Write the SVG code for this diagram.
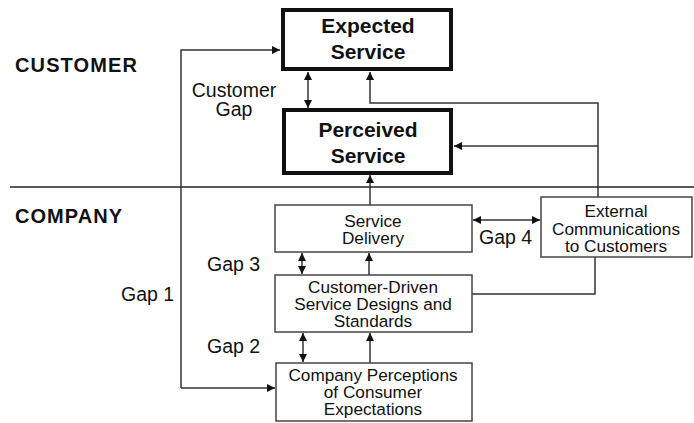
<svg xmlns="http://www.w3.org/2000/svg" width="694" height="423" viewBox="0 0 694 423">
<defs>
<marker id="ah" viewBox="0 0 10 10" refX="10" refY="5" markerWidth="8" markerHeight="8" markerUnits="userSpaceOnUse" orient="auto-start-reverse"><path d="M0,0 L10,5 L0,10 z" fill="#111"/></marker>
</defs>
<style>
text{font-family:"Liberation Sans",Arial,sans-serif;fill:#111;}
.big{font-size:21px;font-weight:bold;text-anchor:middle;}
.sec{font-size:20px;font-weight:bold;}
.lbl{font-size:19.5px;}
.box{font-size:17.2px;text-anchor:middle;}
.thick{fill:#fff;stroke:#111;stroke-width:4;}
.thin{fill:#fff;stroke:#444;stroke-width:1.5;}
.ln{fill:none;stroke:#333;stroke-width:1.5;}
.ar{marker-end:url(#ah);}
.dar{marker-end:url(#ah);marker-start:url(#ah);}
</style>
<rect width="694" height="423" fill="#fff"/>
<text class="sec" x="15" y="72" textLength="122">CUSTOMER</text>
<text class="sec" x="15" y="223" textLength="107">COMPANY</text>
<line x1="10" y1="187" x2="694" y2="187" stroke="#222" stroke-width="1.5"/>
<g id="connectors">
<polyline class="ln ar" points="181,388 181,50 280,50"/>
<line class="ln ar" x1="181" y1="388" x2="275" y2="388"/>
<line class="ln dar" x1="308" y1="72" x2="308" y2="108"/>
<polyline class="ln ar" points="598,197 598,103 370,103 370,72"/>
<polyline class="ln ar" points="598,146 454,146"/>
<line class="ln ar" x1="370" y1="205" x2="370" y2="175"/>
<line class="ln dar" x1="473" y1="220" x2="540" y2="220"/>
<polyline class="ln" points="472,294 595,294 595,257"/>
<line class="ln dar" x1="302" y1="253" x2="302" y2="274"/>
<line class="ln ar" x1="369" y1="275" x2="369" y2="253"/>
<line class="ln dar" x1="303" y1="333" x2="303" y2="362"/>
<line class="ln ar" x1="370" y1="363" x2="370" y2="333"/>
</g>
<text class="lbl" x="234" y="97" text-anchor="middle">Customer</text>
<text class="lbl" x="234" y="116" text-anchor="middle">Gap</text>
<text class="lbl" x="121" y="301">Gap 1</text>
<text class="lbl" x="207" y="271">Gap 3</text>
<text class="lbl" x="207" y="353">Gap 2</text>
<text class="lbl" x="479" y="244">Gap 4</text>
<g id="expected">
<rect class="thick" x="283" y="10" width="168" height="59"/>
<text class="big" x="368" y="33">Expected</text>
<text class="big" x="368" y="59">Service</text>
</g>
<g id="perceived">
<rect class="thick" x="284" y="110" width="167" height="63"/>
<text class="big" x="368" y="137">Perceived</text>
<text class="big" x="368" y="163">Service</text>
</g>
<g id="delivery">
<rect class="thin" x="275" y="205" width="197" height="47"/>
<text class="box" x="373" y="227">Service</text>
<text class="box" x="373" y="244">Delivery</text>
</g>
<g id="external">
<rect class="thin" x="541" y="197" width="151" height="60"/>
<text class="box" x="616" y="217">External</text>
<text class="box" x="616" y="235">Communications</text>
<text class="box" x="616" y="252">to Customers</text>
</g>
<g id="designs">
<rect class="thin" x="275" y="275" width="197" height="57"/>
<text class="box" x="373" y="293">Customer-Driven</text>
<text class="box" x="373" y="310">Service Designs and</text>
<text class="box" x="373" y="327">Standards</text>
</g>
<g id="perceptions">
<rect class="thin" x="276" y="363" width="196" height="58"/>
<text class="box" x="373" y="381">Company Perceptions</text>
<text class="box" x="373" y="398">of Consumer</text>
<text class="box" x="373" y="415">Expectations</text>
</g>
</svg>
